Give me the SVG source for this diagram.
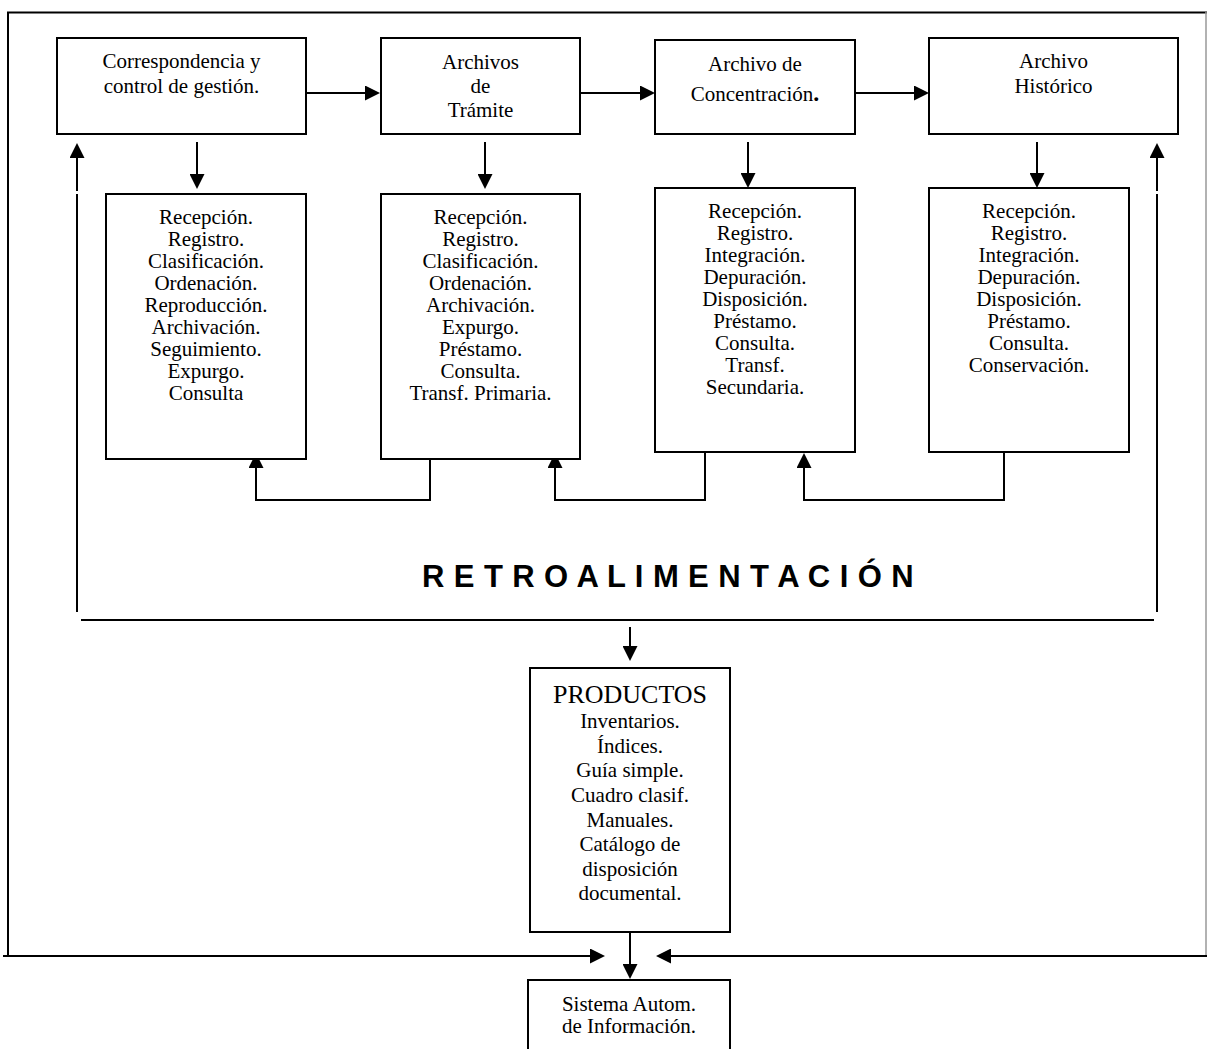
<svg xmlns="http://www.w3.org/2000/svg" width="1207" height="1049" viewBox="0 0 1207 1049">
<style>
.bx{fill:#fff;stroke:#000;stroke-width:2}
.ln{fill:none;stroke:#000;stroke-width:2}
.t{font-family:"Liberation Serif","Times New Roman",serif;font-size:21px;fill:#000;text-anchor:middle}
.big{font-size:26px}
.retro{font-family:"Liberation Sans",Arial,sans-serif;font-size:31px;font-weight:bold;fill:#000;letter-spacing:0.4px}
</style>
<defs>
<marker id="arr" viewBox="0 0 15 15" refX="12" refY="7.5" markerWidth="15" markerHeight="15" markerUnits="userSpaceOnUse" orient="auto">
<path d="M0,0 L15,7.5 L0,15 z" fill="#000"/>
</marker>
</defs>
<rect width="1207" height="1049" fill="#fff"/>
<g id="connectors">
<path class="ln" d="M7,12.5 H1207"/>
<path class="ln" d="M8,12 V956"/>
<path d="M1206,12 V956" fill="none" stroke="#999" stroke-width="1.5"/>
<path class="ln" d="M3,956 H602" marker-end="url(#arr)"/>
<path class="ln" d="M1207,956 H659" marker-end="url(#arr)"/>
<path class="ln" d="M306,93 H377" marker-end="url(#arr)"/>
<path class="ln" d="M580,93 H652" marker-end="url(#arr)"/>
<path class="ln" d="M855,93 H926" marker-end="url(#arr)"/>
<path class="ln" d="M197,142 V186" marker-end="url(#arr)"/>
<path class="ln" d="M485,142 V186" marker-end="url(#arr)"/>
<path class="ln" d="M748,142 V185" marker-end="url(#arr)"/>
<path class="ln" d="M1037,142 V185" marker-end="url(#arr)"/>
<path class="ln" d="M430,452 V500 H256 V456" marker-end="url(#arr)"/>
<path class="ln" d="M705,452 V500 H555 V456" marker-end="url(#arr)"/>
<path class="ln" d="M1004,452 V500 H804 V456" marker-end="url(#arr)"/>
<path class="ln" d="M77,612 V194"/>
<path class="ln" d="M77,191 V146" marker-end="url(#arr)"/>
<path class="ln" d="M1157,612 V194"/>
<path class="ln" d="M1157,191 V146" marker-end="url(#arr)"/>
<path class="ln" d="M81,620 H1154"/>
<path class="ln" d="M630,627 V658" marker-end="url(#arr)"/>
<path class="ln" d="M630,932 V976" marker-end="url(#arr)"/>
</g>
<g id="n-correspondencia">
<rect class="bx" x="57" y="38" width="249" height="96"/>
<text class="t" x="181.5" y="68">Correspondencia y</text>
<text class="t" x="181.5" y="93">control de gestión.</text>
</g>
<g id="n-tramite">
<rect class="bx" x="381" y="38" width="199" height="96"/>
<text class="t" x="480.5" y="69">Archivos</text>
<text class="t" x="480.5" y="93">de</text>
<text class="t" x="480.5" y="117">Trámite</text>
</g>
<g id="n-concentracion">
<rect class="bx" x="655" y="40" width="200" height="94"/>
<text class="t" x="755" y="71">Archivo de</text>
<text class="t" x="755" y="101">Concentración<tspan font-weight="bold" font-size="24">.</tspan></text>
</g>
<g id="n-historico">
<rect class="bx" x="929" y="38" width="249" height="96"/>
<text class="t" x="1053.5" y="68">Archivo</text>
<text class="t" x="1053.5" y="93">Histórico</text>
</g>
<g id="n-list1">
<rect class="bx" x="106" y="194" width="200" height="265"/>
<text class="t" x="206" y="224">Recepción.</text>
<text class="t" x="206" y="246">Registro.</text>
<text class="t" x="206" y="268">Clasificación.</text>
<text class="t" x="206" y="290">Ordenación.</text>
<text class="t" x="206" y="312">Reproducción.</text>
<text class="t" x="206" y="334">Archivación.</text>
<text class="t" x="206" y="356">Seguimiento.</text>
<text class="t" x="206" y="378">Expurgo.</text>
<text class="t" x="206" y="400">Consulta</text>
</g>
<g id="n-list2">
<rect class="bx" x="381" y="194" width="199" height="265"/>
<text class="t" x="480.5" y="224">Recepción.</text>
<text class="t" x="480.5" y="246">Registro.</text>
<text class="t" x="480.5" y="268">Clasificación.</text>
<text class="t" x="480.5" y="290">Ordenación.</text>
<text class="t" x="480.5" y="312">Archivación.</text>
<text class="t" x="480.5" y="334">Expurgo.</text>
<text class="t" x="480.5" y="356">Préstamo.</text>
<text class="t" x="480.5" y="378">Consulta.</text>
<text class="t" x="480.5" y="400">Transf. Primaria.</text>
</g>
<g id="n-list3">
<rect class="bx" x="655" y="188" width="200" height="264"/>
<text class="t" x="755" y="218">Recepción.</text>
<text class="t" x="755" y="240">Registro.</text>
<text class="t" x="755" y="262">Integración.</text>
<text class="t" x="755" y="284">Depuración.</text>
<text class="t" x="755" y="306">Disposición.</text>
<text class="t" x="755" y="328">Préstamo.</text>
<text class="t" x="755" y="350">Consulta.</text>
<text class="t" x="755" y="372">Transf.</text>
<text class="t" x="755" y="394">Secundaria.</text>
</g>
<g id="n-list4">
<rect class="bx" x="929" y="188" width="200" height="264"/>
<text class="t" x="1029" y="218">Recepción.</text>
<text class="t" x="1029" y="240">Registro.</text>
<text class="t" x="1029" y="262">Integración.</text>
<text class="t" x="1029" y="284">Depuración.</text>
<text class="t" x="1029" y="306">Disposición.</text>
<text class="t" x="1029" y="328">Préstamo.</text>
<text class="t" x="1029" y="350">Consulta.</text>
<text class="t" x="1029" y="372">Conservación.</text>
</g>
<g id="n-retro">
<text class="retro" x="422" y="587">R E T R O A L I M E N T A C I Ó N</text>
</g>
<g id="n-productos">
<rect class="bx" x="530" y="668" width="200" height="264"/>
<text class="t big" x="630" y="703">PRODUCTOS</text>
<text class="t" x="630" y="728">Inventarios.</text>
<text class="t" x="630" y="752.5">Índices.</text>
<text class="t" x="630" y="777">Guía simple.</text>
<text class="t" x="630" y="802">Cuadro clasif.</text>
<text class="t" x="630" y="826.5">Manuales.</text>
<text class="t" x="630" y="851">Catálogo de</text>
<text class="t" x="630" y="875.5">disposición</text>
<text class="t" x="630" y="900">documental.</text>
</g>
<g id="n-sistema">
<path class="bx" d="M528,1052 V980 H730 V1052"/>
<text class="t" x="629" y="1011">Sistema Autom.</text>
<text class="t" x="629" y="1033">de Información.</text>
</g>
</svg>
